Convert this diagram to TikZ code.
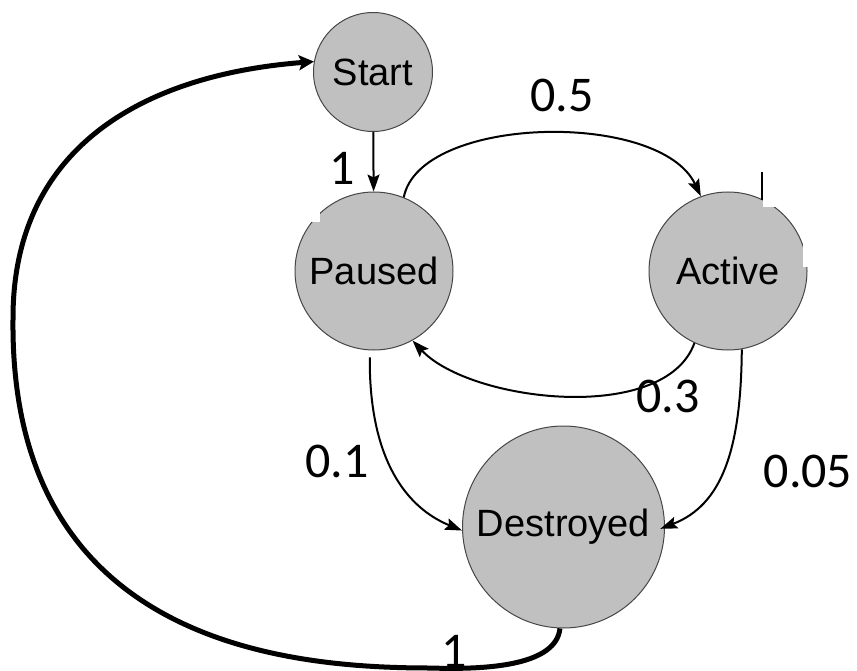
\documentclass[tikz,border=0pt]{standalone}
\usepackage{fontspec}
\setmainfont{Liberation Sans}
\newfontfamily\numfont{Carlito}
\usetikzlibrary{arrows.meta}
\definecolor{statefill}{RGB}{192,192,192}
\definecolor{stateline}{RGB}{70,70,70}
\begin{document}
\begin{tikzpicture}[x=1pt,y=-1pt,
  state/.style={circle,draw=stateline,line width=1pt,fill=statefill,inner sep=0pt,
    font=\fontsize{38}{40}\selectfont},
  prob/.style={font=\numfont\fontsize{50}{52}\selectfont,inner sep=0pt},
  edge/.style={line width=2pt,-{Stealth[length=17pt,width=12pt,inset=3pt]}},
  backedge/.style={line width=5pt,-{Stealth[length=15pt,width=15pt,inset=3pt]}},
  patch/.style={fill=white,draw=none}]
\useasboundingbox (0,0) rectangle (857,671);

% states
\node[state,minimum size=119pt] (start) at (373,72) {Start};
\node[state,minimum size=158pt] (paused) at (374,271) {Paused};
\node[state,minimum size=158pt] (active) at (728,271) {Active};
\node[state,minimum size=202pt] (destroyed) at (563.5,527) {Destroyed};

% white patches over the state outlines
\fill[patch] (285,180) rectangle (320,222);
\fill[patch] (763,150) -- (857,150) -- (857,267) -- (803,267) -- (803,207) -- (763,207) -- cycle;
\draw[line width=1.6pt] (762,172) -- (762,200);

% transitions
\draw[edge] (start) -- (paused);
\draw[edge] (paused.68) .. controls (420,115) and (660,110) .. (active.110);
\draw[edge] (active.-115) .. controls (665,425) and (470,402) .. (paused.-61);
\draw[edge,shorten <=7pt] (paused.-93) .. controls (369,450) and (400,505) .. (destroyed.182);
\draw[edge,shorten >=-5pt] (active.-80) .. controls (741,450) and (722,505) .. (destroyed.east);
\draw[backedge] (destroyed.-92.5) .. controls (556,665) and (490,670) .. (430,668)
  .. controls (280,668) and (10,640) .. (13,320)
  .. controls (12,150) and (140,75) .. (start.170);

% transition probabilities
\node[prob] (pStart) at (342,168) {1};
\node[prob] (pPA) at (562,95) {0.5};
\node[prob] (pAP) at (668,396) {0.3};
\node[prob] (pPD) at (337,461) {0.1};
\node[prob] (pAD) at (808,471) {0.05};
\node[prob] (pDS) at (454,651) {1};
\end{tikzpicture}
\end{document}
